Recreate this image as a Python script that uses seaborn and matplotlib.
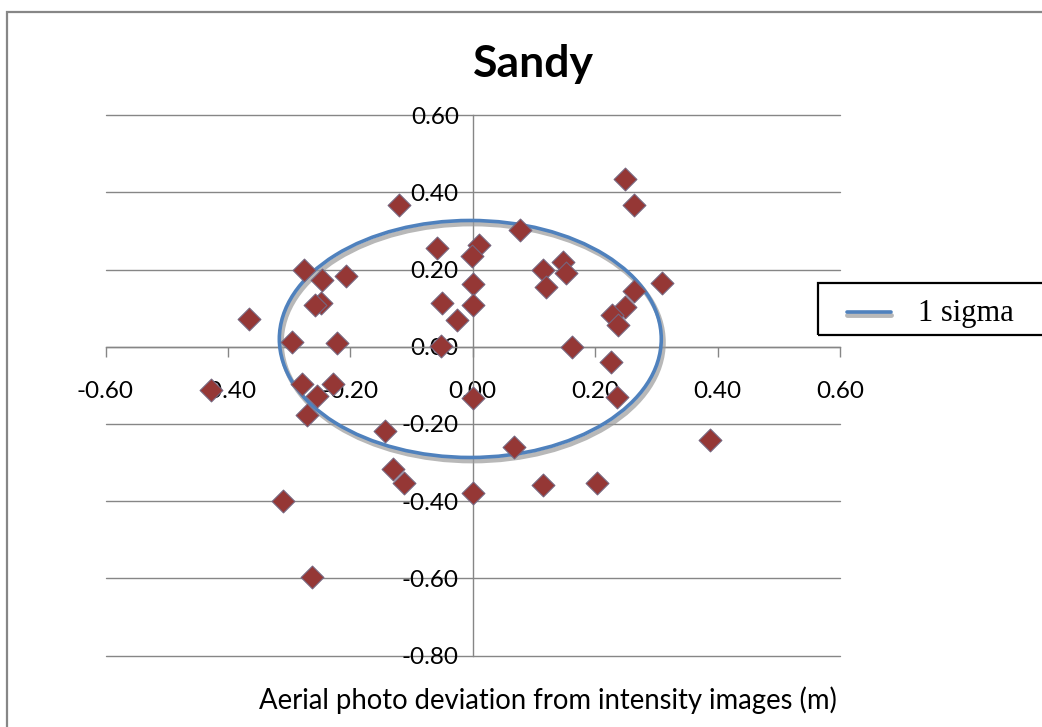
import matplotlib
matplotlib.use('Agg')  # sem display
import matplotlib.pyplot as plt
import matplotlib.patheffects as pe
from matplotlib.patches import Ellipse, Rectangle
from matplotlib.lines import Line2D
import seaborn as sns
import pandas as pd

# desvios (m)
x_dev = [-0.120, -0.276, -0.247, -0.207, -0.248, -0.258, -0.365, -0.296, -0.222,
         -0.059, 0.011, -0.001, 0.001, 0.000, -0.050, -0.025, -0.052,
         0.248, 0.264, 0.077, 0.148, 0.153, 0.114, 0.120, 0.309, 0.263,
         0.249, 0.228, 0.238, 0.162, 0.226, 0.235,
         -0.427, -0.279, -0.229, -0.255, -0.270, -0.143, 0.000, 0.068, 0.387,
         -0.131, -0.112, 0.000, 0.114, 0.203, -0.310, -0.262]
y_dev = [0.366, 0.200, 0.172, 0.182, 0.113, 0.108, 0.071, 0.013, 0.010,
         0.256, 0.263, 0.236, 0.162, 0.109, 0.112, 0.070, 0.003,
         0.434, 0.368, 0.303, 0.220, 0.190, 0.198, 0.155, 0.165, 0.144,
         0.103, 0.083, 0.057, 0.000, -0.039, -0.130,
         -0.111, -0.097, -0.097, -0.128, -0.176, -0.219, -0.132, -0.261, -0.242,
         -0.318, -0.353, -0.378, -0.359, -0.352, -0.400, -0.597]

sigma_center = (-0.004, 0.020)
sigma_width = 0.624
sigma_height = 0.614

x_ticks = [-0.6, -0.4, -0.2, 0.0, 0.2, 0.4, 0.6]
y_ticks = [-0.8, -0.6, -0.4, -0.2, 0.0, 0.2, 0.4, 0.6]

df = pd.DataFrame({'x': x_dev, 'y': y_dev})

sns.set_theme(style='white')
plt.rcParams['font.family'] = ['Lato', 'DejaVu Sans']

W, H = 1042, 727
fig = plt.figure(figsize=(W / 100, H / 100), dpi=100)
fig.patch.set_facecolor('white')

# moldura externa estilo Excel
fig.patches.append(Rectangle((7 / W, -0.1), 1.2, 1 - 12 / H + 0.1, fill=False,
                             edgecolor='#878787', linewidth=1.6,
                             transform=fig.transFigure))

ax = fig.add_axes([105.5 / W, 1 - 655.5 / H, 734.5 / W, 540.4 / H])

sns.scatterplot(data=df, x='x', y='y', marker='D', s=135, color='#953735',
                edgecolor='#76667f', linewidth=0.8, ax=ax, zorder=4)

sigma = Ellipse(sigma_center, sigma_width, sigma_height, fill=False,
                edgecolor='#4F81BD', linewidth=2.6, zorder=3,
                path_effects=[pe.SimpleLineShadow(offset=(1.5, -2.5), shadow_color='#9a9a9a',
                                                  alpha=0.7, linewidth=3.5),
                              pe.Normal()])
ax.add_patch(sigma)

ax.set_xlim(-0.6, 0.6)
ax.set_ylim(-0.8, 0.6)
ax.set_xticks(x_ticks)
ax.set_yticks(y_ticks)
ax.set_xticklabels([f'{v:.2f}' for v in x_ticks])
ax.set_yticklabels([f'{v:.2f}' for v in y_ticks])

for side in ['top', 'right']:
    ax.spines[side].set_visible(False)
for side in ['left', 'bottom']:
    ax.spines[side].set_position(('data', 0))
    ax.spines[side].set_color('#868686')
    ax.spines[side].set_linewidth(1.0)

ax.yaxis.grid(True, color='#868686', linewidth=1.0)
ax.xaxis.grid(False)
for gl in ax.yaxis.get_gridlines():
    gl.set_clip_on(False)
ax.tick_params(axis='x', direction='out', length=7, width=1, color='#868686',
               pad=18, labelsize=17.5, labelcolor='black', bottom=True)
ax.tick_params(axis='y', length=0, pad=10, labelsize=17.5, labelcolor='black')
ax.set_xlabel('')
ax.set_ylabel('')

fig.text(548 / W, 1 - 700 / H, 'Aerial photo deviation from intensity images (m)',
         ha='center', va='center', fontsize=19.8, color='black')
fig.text(533 / W, 1 - 64 / H, 'Sandy', ha='center', va='center', fontsize=32,
         fontweight='bold', color='black')

# legenda desenhada a mao (caixa cortada na borda direita)
fig.patches.append(Rectangle((818 / W, 1 - 335 / H), 240 / W, 52 / H, fill=False,
                             edgecolor='black', linewidth=1.6,
                             transform=fig.transFigure))
fig.lines.append(Line2D([847 / W, 891 / W], [1 - 312 / H, 1 - 312 / H],
                        color='#4F81BD', linewidth=2.6, transform=fig.transFigure,
                        path_effects=[pe.SimpleLineShadow(offset=(0, -2.5),
                                                          shadow_color='#9a9a9a',
                                                          alpha=0.7, linewidth=3.5),
                                      pe.Normal()]))
fig.text(918 / W, 1 - 313 / H, '1 sigma', ha='left', va='center', fontsize=22,
         family=['Liberation Serif', 'DejaVu Serif'], color='black')

fig.savefig('out.png', dpi=100, facecolor='white')
